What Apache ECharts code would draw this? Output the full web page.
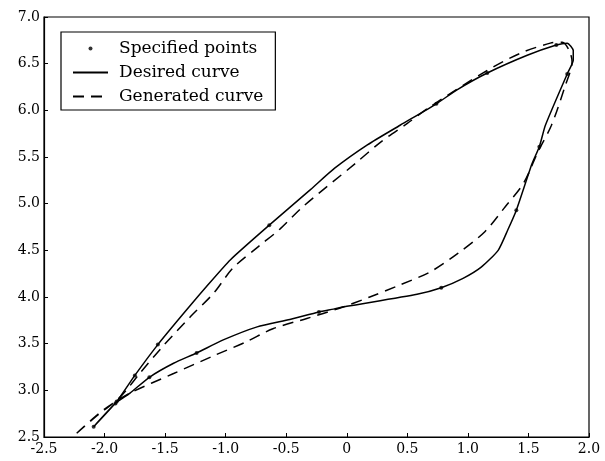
<!DOCTYPE html>
<html>
<head>
<meta charset="utf-8">
<script src="https://cdn.jsdelivr.net/npm/echarts@6/dist/echarts.min.js"></script>
<style>
  html, body { margin: 0; padding: 0; background: #fff; }
  #main-chart { width: 605px; height: 461px; }
</style>
</head>
<body>
<div id="main-chart"></div>
<script>
// specified points (dots)
const pointsX = [-2.09, -1.90, -1.75, -1.56, -0.64, 0.74, 1.16, 1.73, 1.82, 1.59, 1.40, 0.78, -0.23, -1.24, -1.63, -1.91];
const pointsY = [2.61, 2.88, 3.16, 3.49, 4.77, 6.07, 6.40, 6.70, 6.39, 5.61, 4.93, 4.10, 3.84, 3.40, 3.14, 2.86];

// desired curve (closed loop)
const desiredX = [-2.09, -1.90, -1.75, -1.56, -1.35, -1.16, -0.96, -0.64, -0.30, -0.10, 0.17, 0.44, 0.74, 0.91, 1.16, 1.49, 1.73, 1.82, 1.87, 1.87, 1.82, 1.64, 1.59, 1.53, 1.40, 1.33, 1.25, 1.11, 0.96, 0.78, 0.58, 0.00, -0.11, -0.23, -0.47, -0.74, -1.02, -1.24, -1.43, -1.63, -1.79, -1.91, -2.09];
const desiredY = [2.61, 2.88, 3.16, 3.49, 3.82, 4.11, 4.40, 4.77, 5.15, 5.38, 5.63, 5.84, 6.07, 6.22, 6.40, 6.59, 6.70, 6.72, 6.64, 6.54, 6.39, 5.84, 5.61, 5.43, 4.93, 4.72, 4.50, 4.32, 4.20, 4.10, 4.03, 3.90, 3.87, 3.84, 3.76, 3.68, 3.54, 3.40, 3.29, 3.14, 2.97, 2.86, 2.61];

// generated curve (closed loop)
const generatedX = [-2.23, -2.07, -1.87, -1.71, -1.52, -1.29, -1.10, -0.94, -0.73, -0.55, -0.36, 0.07, 0.28, 0.50, 0.69, 1.15, 1.43, 1.68, 1.78, 1.84, 1.86, 1.80, 1.69, 1.58, 1.46, 1.31, 1.14, 0.92, 0.69, 0.44, 0.19, -0.06, -0.33, -0.61, -0.83, -1.10, -1.43, -1.79, -2.01, -2.23];
const generatedY = [2.54, 2.72, 2.93, 3.18, 3.47, 3.79, 4.04, 4.31, 4.54, 4.73, 4.97, 5.43, 5.66, 5.86, 6.04, 6.42, 6.61, 6.72, 6.73, 6.63, 6.52, 6.25, 5.84, 5.56, 5.22, 4.97, 4.70, 4.47, 4.27, 4.13, 4.00, 3.88, 3.77, 3.66, 3.52, 3.37, 3.18, 2.97, 2.79, 2.54];

const zip = (xs, ys) => xs.map((x, i) => [x, ys[i]]);
const font = 'DejaVu Serif';

let chartDom = document.getElementById('main-chart');
let myChart = echarts.init(chartDom);

let option = {
    backgroundColor: '#fff',
    animation: false,
    grid: {
        left: 44, right: 16, top: 17, bottom: 24,
        show: true, borderColor: '#000', borderWidth: 1.2
    },
    legend: {
        orient: 'vertical',
        left: 61, top: 32,
        padding: [8, 12, 5, 11],
        itemWidth: 35, itemHeight: 4, itemGap: 7,
        borderColor: '#000', borderWidth: 1.2,
        textStyle: { fontFamily: font, fontSize: 17, lineHeight: 17, color: '#000', padding: [0, 0, 0, 6] },
        data: [
            { name: 'Specified points' },
            { name: 'Desired curve', itemStyle: { opacity: 0 } },
            { name: 'Generated curve', itemStyle: { opacity: 0 } }
        ]
    },
    xAxis: {
        type: 'value', min: -2.5, max: 2.0, interval: 0.5,
        axisLine: { onZero: false, lineStyle: { color: '#000', width: 1.2 } },
        axisTick: { inside: true, length: 4, lineStyle: { color: '#000' } },
        splitLine: { show: false },
        axisLabel: {
            color: '#000', fontFamily: font, fontSize: 14, margin: 5,
            formatter: v => (v === 0 ? '0' : v.toFixed(1))
        }
    },
    yAxis: {
        type: 'value', min: 2.5, max: 7.0, interval: 0.5,
        axisLine: { show: true, onZero: false, lineStyle: { color: '#000', width: 1.2 } },
        axisTick: { show: true, inside: true, length: 4, lineStyle: { color: '#000' } },
        splitLine: { show: false },
        axisLabel: {
            color: '#000', fontFamily: font, fontSize: 14, margin: 4,
            formatter: v => v.toFixed(1)
        }
    },
    series: [
        {
            name: 'Specified points',
            type: 'scatter',
            data: zip(pointsX, pointsY),
            symbol: 'circle', symbolSize: 4,
            itemStyle: { color: '#000' },
            z: 5
        },
        {
            name: 'Desired curve',
            type: 'line',
            data: zip(desiredX, desiredY),
            smooth: 0.2,
            showSymbol: false, symbol: 'none',
            lineStyle: { color: '#000', width: 1.5 },
            itemStyle: { color: '#000' }
        },
        {
            name: 'Generated curve',
            type: 'line',
            data: zip(generatedX, generatedY),
            smooth: 0.3,
            showSymbol: false, symbol: 'none',
            lineStyle: { color: '#000', width: 1.5, type: [11, 7] },
            itemStyle: { color: '#000' }
        }
    ]
};

myChart.setOption(option);
</script>
</body>
</html>
